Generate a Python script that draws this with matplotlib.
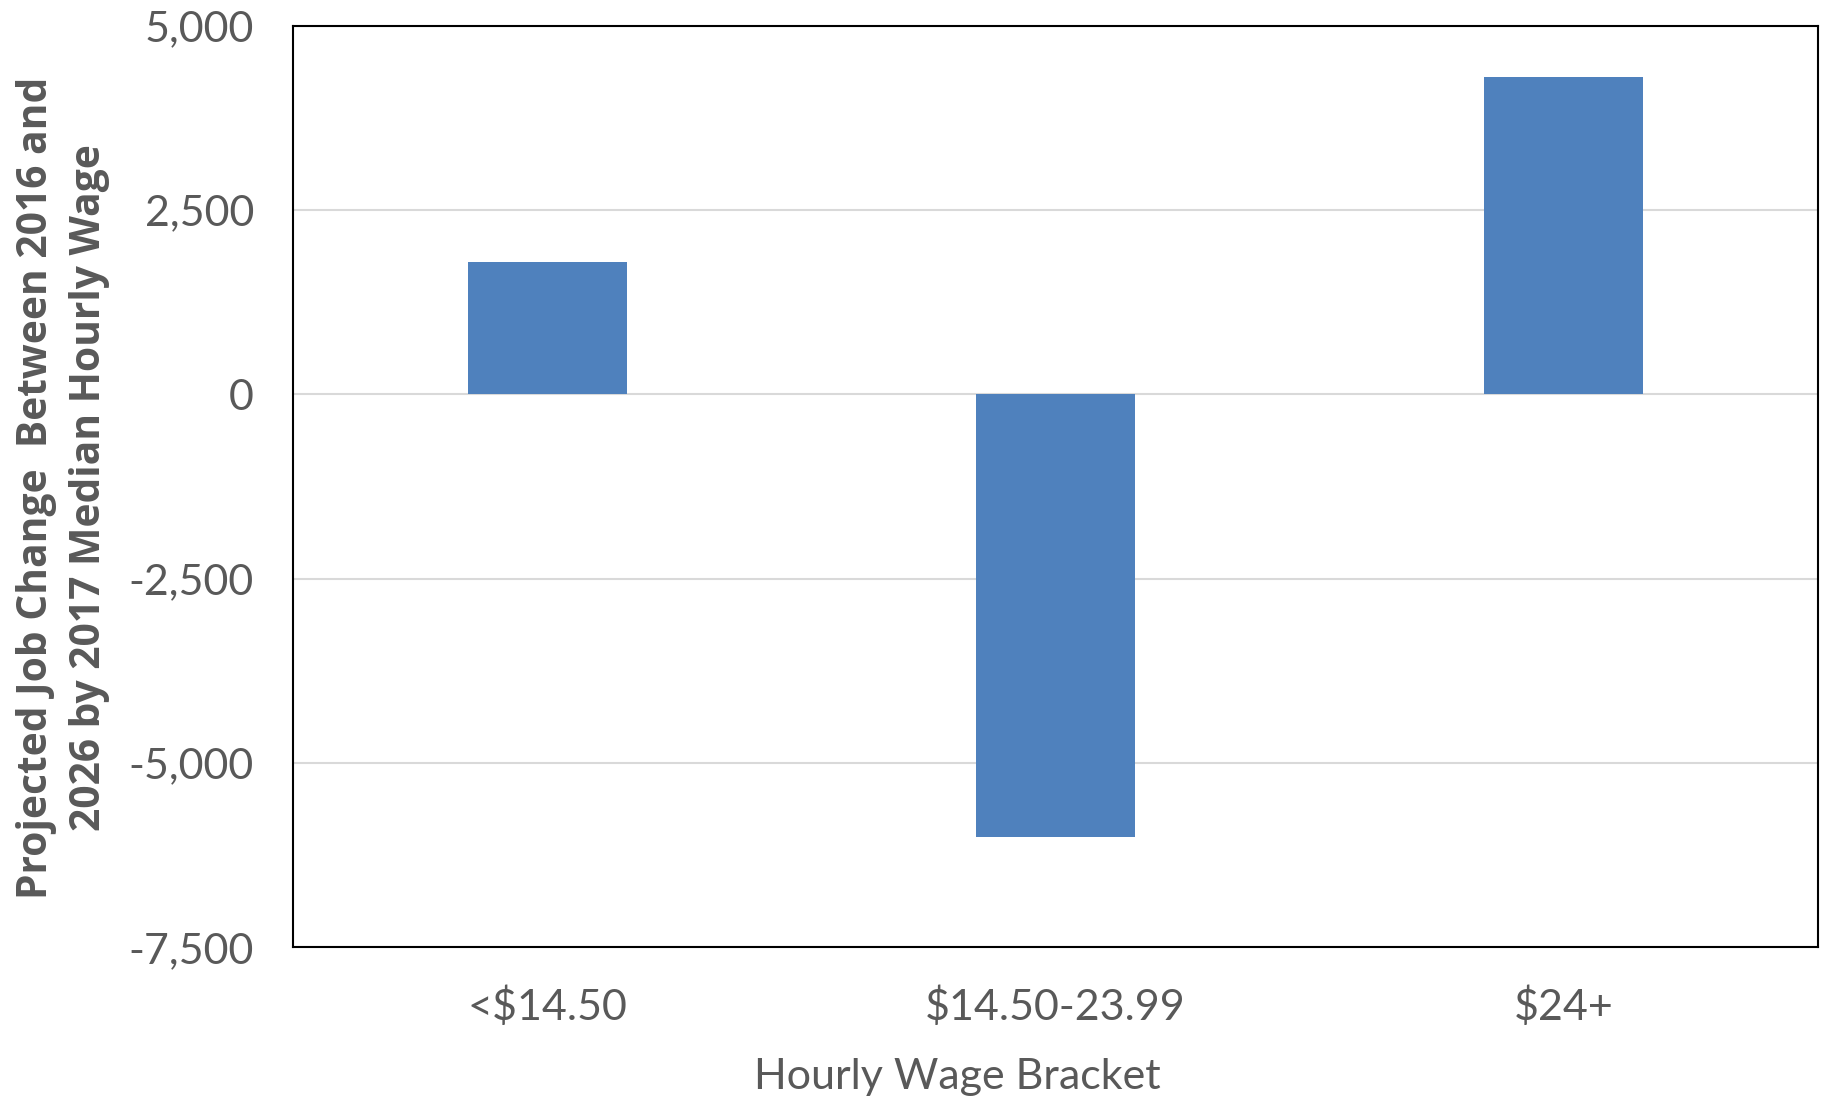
import matplotlib
matplotlib.use("Agg")
import matplotlib.pyplot as plt
from matplotlib.ticker import FuncFormatter

categories = ["<$14.50", "$14.50-23.99", "$24+"]
values = [1800, -6000, 4300]
yticks = [-7500, -5000, -2500, 0, 2500, 5000]

plt.rcParams['font.family'] = ['Lato', 'DejaVu Sans']
txt = '#595959'

fig = plt.figure(figsize=(18.25, 11.01), dpi=100)
ax = fig.add_axes([293/1825, 1 - 947.4/1101, (1818-293)/1825, (947.4-25.6)/1101])

x = list(range(len(categories)))
ax.bar(x, values, width=0.313, color='#4F81BD', zorder=3)

ax.set_xlim(-0.5, 2.5)
ax.set_ylim(-7500, 5000)
ax.set_yticks(yticks)
ax.yaxis.set_major_formatter(FuncFormatter(lambda v, p: f"{int(v):,}"))
ax.set_xticks(x)
ax.set_xticklabels(categories)
ax.grid(axis='y', color='#D9D9D9', linewidth=1.5, zorder=1)
ax.tick_params(axis='both', length=0, labelsize=31, colors=txt)
ax.tick_params(axis='y', pad=28)
ax.tick_params(axis='x', pad=28)
for s in ax.spines.values():
    s.set_color('black')
    s.set_linewidth(1.5)

fig.text(957/1825, 1 - 1077/1101, "Hourly Wage Bracket", fontsize=31, color=txt,
         ha='center', va='center')
fig.text(63/1825, 1 - 488/1101,
         "Projected Job Change  Between 2016 and\n2026 by 2017 Median Hourly Wage",
         rotation=90, ha='center', va='center', fontsize=29.3, fontweight='bold',
         family=['Open Sans', 'DejaVu Sans'],
         color=txt, linespacing=1.4, multialignment='center')

fig.savefig("out.png", dpi=100)
